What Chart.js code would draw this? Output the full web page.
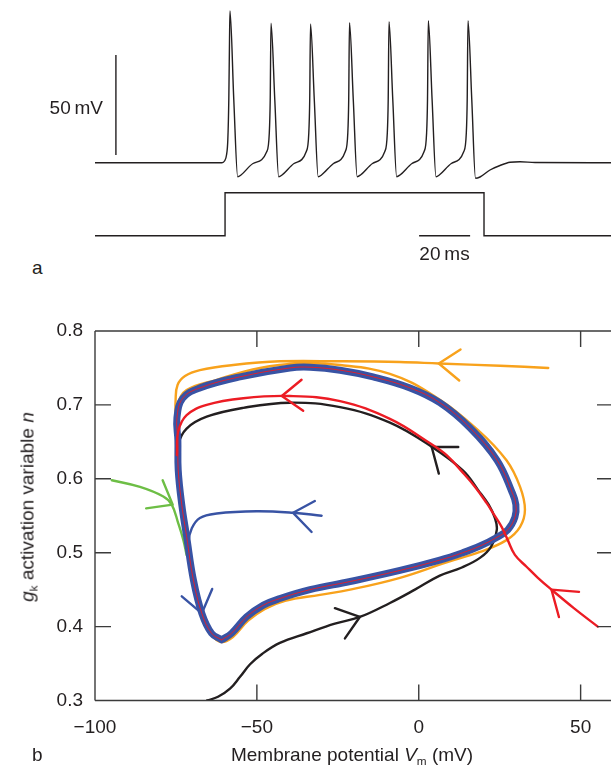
<!DOCTYPE html>
<html><head><meta charset="utf-8">
<script src="https://cdn.jsdelivr.net/npm/chart.js@4.4.1/dist/chart.umd.min.js"></script>
<style>
html,body{margin:0;padding:0;background:#fff;overflow:hidden;width:611px;height:765px;}
#wrap{position:relative;width:611px;height:765px;overflow:hidden;font-family:"Liberation Sans",Arial,Helvetica,sans-serif;color:#231f20;}
canvas{position:absolute;}
.lbl{position:absolute;white-space:nowrap;font-size:19px;line-height:1;}
.lbl sub{font-size:0.62em;vertical-align:-0.32em;line-height:0;}
</style></head><body><div id="wrap">
<canvas id="top" width="516" height="250" style="left:95px;top:0px;"></canvas>
<canvas id="bot" width="625" height="465" style="left:0px;top:300px;"></canvas>
<div class="lbl" style="right:508px;top:98px;">50&thinsp;mV</div>
<div class="lbl" style="left:444.5px;top:244px;transform:translateX(-50%);">20&thinsp;ms</div>
<div class="lbl" style="left:32px;top:258px;">a</div>
<div class="lbl" style="left:32px;top:745px;">b</div>
<div class="lbl" style="left:352px;top:744.5px;transform:translateX(-50%);">Membrane potential <i>V</i><sub>m</sub> (mV)</div>
<div class="lbl" style="left:27px;top:507px;transform:translate(-50%,-50%) rotate(-90deg);"><i>g</i><sub>k</sub> activation variable <i>n</i></div>
</div>
<script>
// ---------- panel a : membrane potential trace (ms, mV) ----------
const traceTime = [0,49.80,50.78,51.57,52.08,52.47,52.75,52.94,54.43,55.96,57.25,61.96,
  67.33,68.35,68.71,69.02,70.51,72.04,73.33,78.04,
  82.82,83.84,84.20,84.51,86.00,87.53,88.82,93.53,
  98.12,99.14,99.49,99.80,101.29,102.82,104.12,108.82,
  113.61,114.63,114.98,115.29,116.78,118.31,119.61,124.31,
  129.02,130.04,130.39,130.71,132.20,133.73,135.02,139.73,
  144.59,145.61,145.96,146.27,147.76,149.22,150.98,154.90,158.82,162.75,166.67,172.55,202.35];
const traceVm = [-65,-65,-64.15,-61.15,-53.65,-33.65,-3.65,10.85,-33.65,-72.0,-71.15,-65.4,
  -59.5,-50.15,-33.65,4.7,-33.65,-72.0,-71.15,-65.4,
  -59.5,-50.15,-33.65,4.35,-33.65,-72.0,-71.15,-65.4,
  -59.5,-50.15,-33.65,5.0,-33.65,-72.0,-71.15,-65.4,
  -59.5,-50.15,-33.65,5.5,-33.65,-72.0,-71.15,-65.4,
  -59.5,-50.15,-33.65,6.0,-33.65,-72.0,-71.15,-65.4,
  -59.5,-50.15,-33.65,6.0,-33.65,-72.8,-72.15,-68.65,-66.4,-64.8,-64.55,-64.9,-65];
// injected current step (arbitrary units)
const stepTime = [0,51.0,51.0,152.55,152.55,202.35];
const stepLevel = [0,0,1,1,0,0];
// scale bars: 50 mV and 20 ms
const vBarTime = [8.2,8.2];
const vBarVm = [-61.15,-11.15];
const hBarTime = [127.1,147.1];
const hBarLevel = [0,0];

// ---------- panel b : phase plane (V in mV, n) ----------
const xTickValues = [-100,-50,0,50];
const xTickLabels = ['\u2212100','\u221250','0','50'];
const yTickValues = [0.3,0.4,0.5,0.6,0.7,0.8];
const yTickLabels = ['0.3','0.4','0.5','0.6','0.7','0.8'];

const cycleV = [-60.9,-57.8,-53.2,-48.0,-42.9,-33.6,-21.2,-5.8,6.5,13.6,18.9,23.8,27.5,29.7,30.0,28.8,24.2,15.8,6.5,-2.7,-14.1,-24.3,-33.6,-39.8,-55.2,-67.6,-72.9,-74.7,-74.4,-74.3,-73.2,-71.7,-69.6,-67.0,-64.0,-60.9];
const cycleN = [0.382,0.391,0.413,0.429,0.438,0.450,0.461,0.476,0.490,0.500,0.509,0.520,0.531,0.548,0.565,0.582,0.625,0.669,0.703,0.723,0.738,0.747,0.751,0.750,0.738,0.723,0.709,0.682,0.652,0.612,0.565,0.522,0.463,0.418,0.391,0.382];

const orangeV = [40.0,25.1,6.2,-5.8,-24.3,-42.9,-57.3,-67.6,-72.2,-74.5,-75.1,-75.1,-74.7,-73.9,-73.0,-71.9,-69.9,-67.3,-64.2,-60.9,-57.4,-52.7,-47.5,-41.3,-30.5,-21.2,-5.8,8.6,18.9,27.1,31.3,32.8,31.3,27.1,18.3,4.4,-8.9,-24.3,-36.7,-49.0,-62.4,-71.7,-74.5,-74.7];
const orangeN = [0.750,0.753,0.756,0.758,0.759,0.759,0.754,0.747,0.739,0.727,0.707,0.677,0.639,0.598,0.558,0.517,0.463,0.418,0.390,0.379,0.386,0.408,0.424,0.435,0.443,0.450,0.466,0.487,0.501,0.517,0.535,0.558,0.589,0.625,0.666,0.713,0.742,0.754,0.756,0.750,0.734,0.720,0.700,0.666];

const redV = [55.3,47.9,41.0,36.8,33.3,29.7,27.5,25.6,23.2,21.0,17.4,13.7,8.6,3.5,-8.9,-24.3,-39.8,-54.2,-65.5,-71.7,-74.3,-74.7];
const redN = [0.400,0.425,0.450,0.466,0.481,0.497,0.517,0.535,0.552,0.567,0.589,0.608,0.632,0.648,0.681,0.705,0.712,0.709,0.700,0.686,0.664,0.632];

const blackV = [-65.4,-62.0,-58.3,-55.2,-52.1,-48.4,-42.9,-34.6,-25.9,-18.2,-8.9,-1.2,6.5,13.3,18.9,22.3,24.1,23.5,21.6,18.3,13.7,4.1,-8.9,-24.3,-39.8,-54.2,-65.5,-71.7,-74.3,-74.7];
const blackN = [0.300,0.305,0.316,0.332,0.349,0.363,0.378,0.391,0.404,0.413,0.432,0.450,0.469,0.480,0.493,0.508,0.531,0.547,0.565,0.585,0.611,0.643,0.676,0.697,0.703,0.696,0.684,0.668,0.646,0.612];

const greenV = [-94.8,-86.1,-78.9,-76.3,-74.3,-72.7,-71.7];
const greenN = [0.598,0.589,0.576,0.565,0.540,0.517,0.497];

const blueV = [-30.0,-38.8,-50.1,-62.4,-67.6,-70.1,-71.2,-70.9,-70.2];
const blueN = [0.550,0.554,0.556,0.553,0.547,0.533,0.513,0.490,0.474];

// arrowheads: [barb, tip, barb]
const arrowOrangeV = [12.9,6.2,12.5],   arrowOrangeN = [0.775,0.756,0.733];
const arrowRed1V = [-36.2,-42.3,-35.7], arrowRed1N = [0.734,0.712,0.692];
const arrowRed2V = [49.5,41.0,43.3],    arrowRed2N = [0.447,0.450,0.413];
const arrowBlack1V = [-25.9,-18.2,-22.8], arrowBlack1N = [0.425,0.413,0.384];
const arrowBlack2V = [12.2,4.0,6.2],    arrowBlack2N = [0.643,0.643,0.607];
const arrowGreenV = [-79.1,-76.0,-84.2], arrowGreenN = [0.598,0.565,0.560];
const arrowBlue1V = [-73.2,-67.0,-63.8], arrowBlue1N = [0.441,0.418,0.451];
const arrowBlue2V = [-32.1,-38.8,-33.1], arrowBlue2N = [0.570,0.554,0.528];

const C = {orange:'#F8A21C', red:'#EC1C24', black:'#231F20', blue:'#3853A4', green:'#6DBE45'};
const FONT = '"Liberation Sans", Arial, Helvetica, sans-serif';

function pts(xs, ys){ return xs.map((v,i)=>({x:v, y:ys[i]})); }
function line(data, color, width, order, tension, extra){
  return Object.assign({data, borderColor:color, backgroundColor:color, borderWidth:width, showLine:true,
    pointRadius:0, pointHoverRadius:0, fill:false, tension:tension, order:order,
    borderCapStyle:'round', borderJoinStyle:'round'}, extra||{});
}

// ---- panel a chart ----
new Chart(document.getElementById('top'), {
  type:'scatter',
  data:{datasets:[
    line(pts(traceTime, traceVm), C.black, 1.4, 1, 0, {yAxisID:'y', cubicInterpolationMode:'monotone', borderCapStyle:'butt'}),
    line(pts(stepTime, stepLevel), C.black, 1.4, 1, 0, {yAxisID:'yI', borderCapStyle:'butt', borderJoinStyle:'miter'}),
    line(pts(vBarTime, vBarVm), C.black, 1.4, 1, 0, {yAxisID:'y', borderCapStyle:'butt'}),
    line(pts(hBarTime, hBarLevel), C.black, 1.4, 1, 0, {yAxisID:'yI', borderCapStyle:'butt'})
  ]},
  options:{
    responsive:false, animation:false, events:[],
    layout:{padding:0},
    plugins:{legend:{display:false}, tooltip:{enabled:false}},
    scales:{
      x:{type:'linear', min:0, max:202.35, display:false},
      y:{type:'linear', min:-108.65, max:16.35, display:false},
      yI:{type:'linear', min:-0.3326, max:5.481, display:false}
    }
  }
});

// ---- panel b chart ----
const frameTicks = {
  id:'frameTicks',
  afterDatasetsDraw(chart){
    const {ctx, chartArea, scales} = chart;
    const {left, right, top, bottom} = chartArea;
    const L = 16;
    ctx.save();
    ctx.strokeStyle = '#3b3b3b';
    ctx.lineWidth = 1.4;
    ctx.beginPath();
    ctx.moveTo(left, top); ctx.lineTo(right, top);
    ctx.moveTo(left, bottom); ctx.lineTo(right, bottom);
    ctx.moveTo(left, top); ctx.lineTo(left, bottom);
    ctx.moveTo(right, top); ctx.lineTo(right, bottom);
    xTickValues.forEach(v=>{
      const px = scales.x.getPixelForValue(v);
      ctx.moveTo(px, bottom); ctx.lineTo(px, bottom - L);
      ctx.moveTo(px, top); ctx.lineTo(px, top + L);
    });
    yTickValues.forEach(v=>{
      const py = scales.y.getPixelForValue(v);
      ctx.moveTo(left, py); ctx.lineTo(left + L, py);
      ctx.moveTo(right, py); ctx.lineTo(right - L, py);
    });
    ctx.stroke();
    ctx.restore();
  }
};

new Chart(document.getElementById('bot'), {
  type:'scatter',
  data:{datasets:[
    line(pts(redV, redN), C.red, 2.4, 2, 0.4),
    line(pts(arrowRed1V, arrowRed1N), C.red, 2.4, 2, 0),
    line(pts(arrowRed2V, arrowRed2N), C.red, 2.4, 2, 0),
    line(pts(cycleV, cycleN), C.red, 0.9, 3, 0.4),
    line(pts(blueV, blueN), C.blue, 2.4, 4, 0.4),
    line(pts(arrowBlue1V, arrowBlue1N), C.blue, 2.4, 4, 0),
    line(pts(arrowBlue2V, arrowBlue2N), C.blue, 2.4, 4, 0),
    line(pts(cycleV, cycleN), C.blue, 7, 5, 0.4),
    line(pts(blackV, blackN), C.black, 2.4, 6, 0.4),
    line(pts(arrowBlack1V, arrowBlack1N), C.black, 2.4, 6, 0),
    line(pts(arrowBlack2V, arrowBlack2N), C.black, 2.4, 6, 0),
    line(pts(greenV, greenN), C.green, 2.4, 6, 0.4),
    line(pts(arrowGreenV, arrowGreenN), C.green, 2.4, 6, 0),
    line(pts(orangeV, orangeN), C.orange, 2.4, 7, 0.4),
    line(pts(arrowOrangeV, arrowOrangeN), C.orange, 2.4, 7, 0)
  ]},
  options:{
    responsive:false, animation:false, events:[],
    layout:{padding:{top:31, right:12, left:0, bottom:0}},
    plugins:{legend:{display:false}, tooltip:{enabled:false}},
    scales:{
      x:{type:'linear', min:-100, max:60,
        afterBuildTicks:s=>{ s.ticks = xTickValues.map(v=>({value:v})); },
        afterFit:s=>{ s.height = 64.5; },
        grid:{display:false, drawTicks:false}, border:{display:false},
        ticks:{padding:16, autoSkip:false, maxRotation:0, color:C.black,
          font:{family:FONT, size:19}, callback:(v,i)=>xTickLabels[i]}
      },
      y:{type:'linear', min:0.3, max:0.8,
        afterBuildTicks:s=>{ s.ticks = yTickValues.map(v=>({value:v})); },
        afterFit:s=>{ s.width = 95; },
        grid:{display:false, drawTicks:false}, border:{display:false},
        ticks:{padding:12, autoSkip:false, color:C.black,
          font:{family:FONT, size:19}, callback:(v,i)=>yTickLabels[i]}
      }
    }
  },
  plugins:[frameTicks]
});
</script>
</body></html>
